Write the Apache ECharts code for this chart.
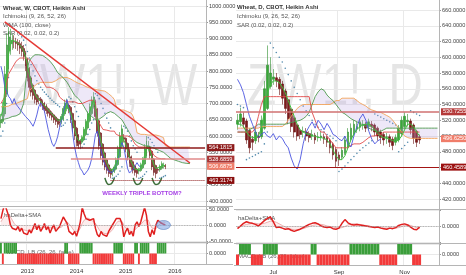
<!DOCTYPE html>
<html><head><meta charset="utf-8">
<script src="https://cdn.jsdelivr.net/npm/echarts@6/dist/echarts.min.js"></script>
<style>html,body{margin:0;padding:0;background:#fff}#c{width:466px;height:275px}</style>
</head><body><div id="c"></div>
<script>
// ---------- LEFT (weekly) data, one entry per 2 weeks from 2012-07-02 ----------
const weeklyCandles = [ // [open, close, low, high]
[640,650,625,668],[645,690,638,705],[668,790,660,815],[729,880,720,915],[805,920,795,935],
[862,905,850,930],[884,895,865,915],[890,890,870,910],[890,885,868,902],[888,880,862,898],
[884,870,852,895],[877,860,845,890],[869,845,832,880],[857,815,800,862],[836,780,768,840],
[808,750,738,812],[779,735,722,785],[757,725,712,762],[741,712,700,745],[727,705,695,730],
[716,712,698,725],[714,700,690,720],[707,692,680,712],[700,683,672,705],[692,678,668,698],
[685,670,660,690],[678,664,655,684],[671,658,648,676],[665,650,640,668],[658,645,634,662],
[652,636,625,655],[644,640,628,652],[642,660,636,668],[651,685,646,692],[668,700,662,712],
[684,705,676,715],[695,680,670,700],[688,650,640,692],[669,625,612,672],[647,600,588,650],
[624,580,568,628],[602,570,560,606],[586,575,562,590],[581,595,575,602],[588,620,584,628],
[604,645,600,652],[625,668,620,676],[647,690,642,700],[669,710,664,722],[690,720,684,735],
[705,660,650,712],[683,610,598,686],[647,570,558,650],[609,540,528,612],[575,520,510,578],
[548,505,495,552],[527,495,484,530],[511,485,474,515],[498,482,470,502],[490,492,476,500],
[491,505,486,512],[498,525,494,534],[512,560,508,570],[536,600,532,612],[568,622,562,635],
[595,590,580,606],[593,560,550,596],[577,535,525,580],[556,515,505,560],[536,505,495,540],
[521,495,485,525],[508,488,478,512],[498,485,472,502],[492,495,482,502],[494,510,490,518],
[502,525,498,535],[514,560,510,575],[537,585,532,600],[561,570,552,585],[566,540,530,570],
[553,505,495,556],[529,488,478,532],[509,484,470,512],[497,495,485,502],[496,505,490,512],
[501,515,496,522],[508,510,500,518],[509,506,498,514]];
const weeklyTenkan = [660,680,740,800,850,880,895,895,890,888,880,872,862,845,820,790,765,745,730,720,
712,708,700,695,688,680,674,668,662,655,648,645,652,668,682,695,690,668,645,620,
600,585,580,590,610,630,655,675,695,710,690,650,610,580,555,535,518,505,495,492,
500,515,540,570,600,595,575,555,535,520,508,498,492,495,505,518,540,565,570,555,
530,510,500,500,505,510,510,508];
const weeklyKijun = [700,700,720,760,790,800,810,820,830,835,840,840,840,
840,840,840,830,820,810,800,800,
780,770,760,750,750,750,750,745,740,735,
720,715,710,705,705,705,705,705,705,705,
700,700,700,700,705,705,710,710,710,700,
650,640,630,620,620,618,618,615,615,615,
605,600,600,600,600,600,600,598,595,590,
575,570,566,566,566,566,566,566,560,555,
540,535,532,532,530,530,530];
const weeklySpanA = [650,650,652,655,655,658,660,660,662,665,668,670,700,760,810,
830,840,845,850,850,850,850,848,845,840,835,830,825,815,805,
795,790,785,780,772,765,755,745,735,725,720,715,710,
700,690,680,670,665,660,655,650,650,652,
655,660,665,670,675,675,672,670,
665,660,655,650,640,630,620,610,600,590,585,
580,575,575,572,570,570,568,566,565,562,560,558,555,553,550,
545,540,535,530,528,526,524,522,520,518,517,516,515,515];
const weeklySpanB = [690,690,690,690,692,695,698,700,700,705,705,708,710,712,715,
740,745,750,755,760,762,765,765,765,765,765,765,765,768,770,
775,778,780,780,780,780,778,775,770,768,765,762,760,
758,755,752,750,748,746,745,744,742,741,
740,740,738,735,730,725,720,712,
690,685,680,680,680,678,675,672,670,660,640,
610,605,605,605,605,605,603,603,603,603,603,600,600,600,595,
570,566,566,566,566,566,566,566,566,566,566,566,566,566];
const weeklyLagging = [815,790,752,738,722,715,700,715,698,690,685,675,672,660,662,648,650,630,645,665,
690,702,700,676,648,620,598,578,568,580,598,625,648,670,695,712,718,655,605,565,
538,518,500,492,480,486,495,508,530,565,605,615,588,555,530,512,500,490,485,488,
498,512,530,565,580,565,535,500,486,482,498,508,518,508,505];
const weeklySAR = [600,615,640,700,780,
940,935,930,925,920,915,905,895,880,860,840,820,800,785,770,760,750,742,735,728,722,716,710,705,700,695,690,
630,633,640,650,720,715,705,690,675,660,562,565,575,590,605,620,640,650,
730,725,715,700,685,670,655,640,625,470,472,476,482,492,505,
630,625,615,600,585,570,560,550,470,472,476,482,490,595,590,580,570,560,550,470,472,475,478];
const weeklyHaDelta = [20,45,65,60,30,0,-10,-5,-15,-5,-20,-10,-25,-20,-30,-15,-25,-10,5,-15,0,-20,-10,
5,-15,-5,-25,-10,0,-20,-25,-5,10,25,20,5,-20,-25,-30,-20,-35,-15,10,55,35,20,25,15,10,
20,-10,-30,-37,-20,-30,-25,-35,-20,-25,0,10,20,25,20,5,-37,-20,-10,-30,-20,
-35,0,10,-5,10,15,55,30,-20,-37,-15,-30,0,15,20,5,10,0];
const weeklySMA = [10,20,30,35,32,25,15,5,-2,-8,-10,-12,-15,-18,-18,-18,-16,-14,-10,-8,
-8,-9,-9,-8,-7,-8,-9,-10,-10,-8,-10,-10,-7,0,6,10,6,-3,-12,-20,
-22,-20,-10,5,15,20,22,20,15,12,5,-5,-15,-22,-25,-27,-28,-27,-22,-15,
-5,5,12,15,12,0,-10,-15,-18,-20,-22,-15,-8,-3,2,6,15,20,15,0,
-10,-15,-12,-5,3,8,10,8];
const weeklyMACD = [1,-1,1,1,1,1,1,1,1,
-1,-1,-1,-1,-1,-1,-1,-1,-1,-1,-1,-1,-1,-1,-1,-1,-1,-1,-1,-1,-1,-1,-1,-1,-1,
1,1,-1,-1,-1,-1,-1,-1,1,1,1,1,1,1,1,
-1,-1,-1,-1,-1,-1,-1,-1,-1,-1,-1,1,1,1,1,1,-1,-1,-1,-1,-1,-1,
1,1,-1,1,1,1,1,1,-1,-1,-1,-1,1,1,1,1,1];
const weeklyLevels = [564.1815, 528.6859, 506.6875, 463.3174];

// ---------- RIGHT (daily) data, one entry per 2 trading days from 2015-05-28 ----------
const dailyCandles = [
[515,520,508,528],[518,528,512,536],[523,515,510,530],[519,495,490,522],[507,485,478,510],
[496,492,482,500],[494,505,490,510],[500,498,492,505],[499,520,496,526],[510,560,508,570],
[535,590,533,615],[563,580,560,600],[572,575,565,585],[574,570,562,580],[572,560,552,575],
[566,548,540,570],[557,535,528,560],[546,522,515,548],[534,512,505,536],[523,505,498,526],
[514,500,494,516],[507,502,496,510],[505,506,498,512],[505,500,494,510],[503,498,492,506],
[500,502,495,508],[501,495,490,504],[498,499,493,505],[498,500,494,506],[499,496,490,503],
[498,492,486,500],[495,485,478,497],[490,476,470,492],[483,468,460,486],[476,470,462,480],
[473,482,470,486],[478,495,476,500],[486,505,484,510],[496,510,494,516],[503,515,500,520],
[509,512,504,518],[511,518,506,522],[514,515,508,520],[515,510,505,518],[512,518,508,522],
[515,512,506,519],[514,505,500,516],[510,500,494,512],[505,498,490,508],[502,495,488,505],
[498,499,490,504],[499,492,486,502],[496,488,482,499],[492,498,488,502],[495,510,492,514],
[503,520,500,525],[512,525,508,530],[518,520,512,528],[519,508,502,522],[514,497,490,516],
[506,492,486,508],[499,495,490,502]];
const dailyTenkan = [515,515,512,505,500,498,498,500,510,530,555,565,570,570,568,562,555,545,535,525,515,
508,505,503,502,500,500,498,498,497,495,490,482,475,470,470,475,485,495,503,508,512,514,515,515,512,
508,503,500,498,497,496,494,493,495,500,508,515,515,512,505,500];
const dailyKijun = [505,505,505,505,505,505,510,525,540,550,
550,550,550,550,550,550,550,550,550,550,550,550,550,550,550,
530,520,510,505,505,500,495,490,485,485,485,485,
485,488,490,490,490,492,495,498,
500,500,502,502,505,505,505,505,505,505,505,505,505,505,505,505,505];
const dailySpanA = [505,505,505,505,508,510,512,515,515,515,515,515,515,515,515,515,
515,516,517,518,519,
520,522,525,530,540,550,556,560,558,552,548,545,540,535,530,528,525,522,520,518,
516,514,512,510,508,507,506,506,508,510,
510,510,510,510,510,510,510,510,510,510,510,510,510,510,510,510,510];
const dailySpanB = [510,510,510,510,510,510,510,510,512,512,512,512,512,512,512,512,
515,520,525,530,535,538,540,540,540,540,540,540,
540,540,540,540,542,545,545,548,548,548,548,548,545,542,540,538,535,533,532,530,
530,528,526,524,520,515,510,505,500,498,497,
497,497,497,497,497,497,497,497,497];
const dailyLagging = [572,565,555,540,525,515,505,498,502,505,500,498,503,495,500,497,490,485,472,462,
458,470,490,505,512,518,510,520,515,508,516,510,502,500,496,494,500,490,486,500,
512,522,528,520,506,496,490,494,496];
const dailySAR = [540,538,536,470,472,474,476,478,480,490,505,618,612,606,600,
594,586,578,570,562,554,546,538,532,526,520,515,511,508,505,502,500,497,494,
455,458,462,466,470,474,478,482,485,488,491,494,528,526,524,522,520,518,516,514,
480,484,488,492,532,530,528,526];
const dailyHaDelta = [-5,0,5,8,6,5,3,0,5,10,14,17,8,-3,-2,-4,-6,-5,-8,-10,-8,-6,-3,0,3,5,6,4,
0,-2,-3,-2,-5,-6,-4,5,12,6,3,2,3,2,1,0,-1,-2,-3,-2,-4,-5,-6,-4,-5,-3,1,3,4,2,-2,-6,-7,-2];
const dailySMA = [-2,-1,1,3,4,5,5,4,4,5,7,9,9,7,4,1,-2,-4,-6,-7,-7,-6,-5,-3,-1,1,2,3,3,2,
0,-1,-2,-3,-4,-3,-1,2,4,4,4,3,2,1,0,-1,-2,-2,-3,-4,-4,-4,-4,-4,-3,-1,1,2,1,-1,-3,-4];
const dailyMACD = [-1,1,1,1,1,-1,-1,-1,-1,1,1,1,1,1,
-1,-1,-1,-1,-1,-1,-1,-1,-1,-1,-1,1,1,
-1,-1,-1,-1,-1,-1,-1,-1,-1,-1,-1,1,1,1,1,1,1,1,1,1,1,
-1,-1,-1,-1,-1,-1,1,1,1,1,1,-1,-1,-1];
const dailyLevels = [530.7255, 496.6250, 460.4589];

// ---------- categories ----------
const catsL = (() => { const o = []; let t = Date.UTC(2012, 6, 2); for (let i = 0; i < 109; i++) { o.push(new Date(t).toISOString().slice(0, 10)); t += 14 * 864e5; } return o; })();
const catsR = (() => { const o = []; let t = Date.UTC(2015, 4, 28), k = 0; while (o.length < 68) { const d = new Date(t), wd = d.getUTCDay(); if (wd !== 0 && wd !== 6) { if (k % 2 === 0) o.push(d.toISOString().slice(0, 10)); k++; } t += 864e5; } return o; })();
const MONTHS = ['Jan','Feb','Mar','Apr','May','Jun','Jul','Aug','Sep','Oct','Nov','Dec'];
const showL = i => i > 0 && catsL[i].slice(0, 4) !== catsL[i - 1].slice(0, 4);
const showR = i => i > 0 && catsR[i].slice(5, 7) !== catsR[i - 1].slice(5, 7) && ['07', '09', '11'].includes(catsR[i].slice(5, 7));

const FONT = '"Liberation Sans", Arial, sans-serif';
const FS = 5.6;
const GRID = '#e9e9e9';

function xAx(gi, cats, showFn, fmt, bottom) {
  return { type: 'category', gridIndex: gi, data: cats, boundaryGap: true,
    axisLine: { show: false }, axisTick: { show: false },
    axisLabel: { show: bottom, interval: (i) => showFn(i), formatter: fmt, fontSize: 6, color: '#333', fontFamily: FONT, margin: 4 },
    splitLine: { show: true, interval: (i) => showFn(i), lineStyle: { color: GRID, width: 1 } } };
}
function yAx(gi, min, max, interval, fmt) {
  return { type: 'value', gridIndex: gi, position: 'right', min, max, interval,
    axisLine: { show: false }, axisTick: { show: true, length: 2, lineStyle: { color: '#999' } },
    axisLabel: { fontSize: FS, color: '#444', fontFamily: FONT, margin: 3, formatter: fmt },
    splitLine: { show: true, lineStyle: { color: GRID } } };
}
const f4 = v => v.toFixed(4);
const only0 = v => (v === 0 ? '0.0000' : '');

function line(xi, data, color, width, extra) {
  return Object.assign({ type: 'line', xAxisIndex: xi, yAxisIndex: xi, data, symbol: 'none', showSymbol: false,
    silent: true, lineStyle: { color, width }, itemStyle: { color } }, extra || {});
}
function lvl(label, bg) {
  return { show: true, position: 'end', formatter: label, color: '#fff', backgroundColor: bg,
    padding: [1, 2, 0, 2], fontSize: FS, fontFamily: FONT, distance: 2 };
}
function segPieces(v, up, down) {
  const p = [];
  for (let i = 0; i < v.length - 1; i++) p.push({ gte: i, lt: i + 1, color: v[i + 1] >= v[i] ? up : down });
  p.push({ gte: v.length - 1, color: v[v.length - 1] >= v[v.length - 2] ? up : down });
  return p;
}

const series = [];
const visualMaps = [];

function buildPanel(o) {
  const g = o.g;
  const base = o.spanA.map((a, i) => Math.min(a, o.spanB[i]));
  const band = o.spanA.map((a, i) => Math.abs(a - o.spanB[i]));
  series.push(line(g, base, 'transparent', 0, { stack: 'cloud' + g, lineStyle: { width: 0, opacity: 0 } }));
  series.push(line(g, band, 'transparent', 0, { stack: 'cloud' + g, lineStyle: { width: 0, opacity: 0 }, areaStyle: { color: 'rgba(185,160,225,0.35)' } }));
  series.push(line(g, o.spanB, '#f3a45a', 0.9));
  series.push(line(g, o.spanA, '#4f9a4f', 0.9));
  series.push(line(g, o.kijun, '#e24b4b', 0.9));
  series.push(line(g, o.lag, '#4b55e0', 0.9));
  series.push(line(g, o.tenkan, '#3fbf3f', 1));
  series.push({ type: 'scatter', xAxisIndex: g, yAxisIndex: g, data: o.sar, symbolSize: 1.6, silent: true, itemStyle: { color: '#2a6f9a' } });
  series.push({ type: 'candlestick', xAxisIndex: g, yAxisIndex: g, data: o.candles, barWidth: '75%', silent: true,
    itemStyle: { color: '#39a839', color0: '#7d1a1a', borderColor: '#2e8e2e', borderColor0: '#6a1212', borderWidth: 0.6 },
    markLine: { silent: true, symbol: ['none', 'none'], animation: false, data: o.marks } });
  (o.extra || []).forEach(s => series.push(s));
  // oscillator
  series.push(line(g + 1, o.sma, '#e8a0a0', 0.8, { areaStyle: { color: 'rgba(235,140,140,0.22)' },
    markLine: { silent: true, symbol: ['none', 'none'], label: { show: false }, data: [{ yAxis: 0 }], lineStyle: { color: '#9a9a9a', type: 'dotted', width: 0.8 } } }));
  const oscIdx = series.length;
  series.push(line(g + 1, o.osc, '#e02020', 1.5, o.oscExtra || {}));
  visualMaps.push({ type: 'piecewise', show: false, seriesIndex: oscIdx, dimension: 0, pieces: segPieces(o.osc, '#33cc33', '#e02020') });
  // MACD-like histogram
  series.push({ type: 'bar', xAxisIndex: g + 2, yAxisIndex: g + 2, data: o.macd, barWidth: '100%', silent: true,
    itemStyle: { color: p => (p.value > 0 ? '#3a9e3a' : '#f23a3a') } });
}

const uShape = (a) => [[catsL[a], 471], [catsL[a + 1], 456], [catsL[a + 2], 451], [catsL[a + 3], 452], [catsL[a + 4], 458], [catsL[a + 5], 471]];
const uStyle = data => ({ type: 'line', xAxisIndex: 0, yAxisIndex: 0, data, smooth: true, symbol: 'none', silent: true, lineStyle: { color: '#3d6e3a', width: 1.5 } });

buildPanel({ g: 0, candles: weeklyCandles, tenkan: weeklyTenkan, kijun: weeklyKijun, spanA: weeklySpanA, spanB: weeklySpanB,
  lag: weeklyLagging, sar: weeklySAR, osc: weeklyHaDelta, sma: weeklySMA, macd: weeklyMACD,
  marks: [
    [{ coord: [catsL[2], 951], lineStyle: { color: '#e53935', width: 1.5, type: 'solid' }, label: { show: false } }, { coord: [catsL[100], 517] }],
    [{ coord: [catsL[29], weeklyLevels[0]], lineStyle: { color: '#8e1b1b', width: 1.5, type: 'solid' }, label: lvl('564.1815', '#8e1b1b') }, { coord: [catsL[108], weeklyLevels[0]] }],
    [{ coord: [catsL[37], weeklyLevels[1]], lineStyle: { color: '#e08a8a', width: 1.5, type: 'solid' }, label: lvl('528.6859', '#a83535') }, { coord: [catsL[108], weeklyLevels[1]] }],
    [{ coord: [catsL[87], weeklyLevels[2]], lineStyle: { color: 'transparent', width: 1 }, label: lvl('506.6875', '#f07d6a') }, { coord: [catsL[108], weeklyLevels[2]] }],
    [{ coord: [catsL[58], weeklyLevels[3]], lineStyle: { color: '#8e1b1b', width: 1, type: 'dotted' }, label: lvl('463.3174', '#8a0f0f') }, { coord: [catsL[108], weeklyLevels[3]] }]
  ],
  extra: [uStyle(uShape(55)), uStyle(uShape(70)), uStyle(uShape(80))],
  oscExtra: { markPoint: { silent: true, animation: false, data: [{ coord: [catsL[86], 0], symbol: 'circle', symbolSize: [14, 9],
    itemStyle: { color: 'rgba(120,160,225,0.55)', borderColor: '#5a7fc0', borderWidth: 0.6 }, label: { show: false } }] } }
});
buildPanel({ g: 3, candles: dailyCandles, tenkan: dailyTenkan, kijun: dailyKijun, spanA: dailySpanA, spanB: dailySpanB,
  lag: dailyLagging, sar: dailySAR, osc: dailyHaDelta, sma: dailySMA, macd: dailyMACD,
  marks: [
    { yAxis: dailyLevels[0], lineStyle: { color: '#d07070', width: 1.5, type: 'solid' }, label: lvl('530.7255', '#b53a3a') },
    { yAxis: dailyLevels[1], lineStyle: { color: 'transparent', width: 1 }, label: lvl('496.6250', '#f07d6a') },
    { yAxis: dailyLevels[2], lineStyle: { color: '#a31515', width: 1.2, type: 'solid' }, label: lvl('460.4589', '#9c1010') }
  ]
});

const grids = [
  { left: 0, width: 206, top: 6, height: 195 },
  { left: 0, width: 206, top: 209, height: 32 },
  { left: 0, width: 206, top: 243, height: 21 },
  { left: 236, width: 203, top: 10, height: 189 },
  { left: 236, width: 203, top: 210, height: 32 },
  { left: 236, width: 203, top: 244, height: 21 }
].map(g => Object.assign({ containLabel: false, outerBoundsMode: 'none' }, g));

const fmtL = v => v.slice(0, 4);
const fmtR = v => MONTHS[parseInt(v.slice(5, 7), 10) - 1];

const txt = (x, y, text, fill, size, weight, align) => ({ type: 'text', x, y, silent: true, z: 1,
  style: { text, fill, fontSize: size, fontFamily: FONT, fontWeight: weight || 'normal', textAlign: align || 'left', align: align || 'left', textVerticalAlign: 'middle', verticalAlign: 'middle' } });
const hl = (x1, x2, y) => ({ type: 'line', silent: true, z: 1, shape: { x1, y1: y, x2, y2: y }, style: { stroke: '#b5b5b5', lineWidth: 1 } });
const vl = (x, y1, y2) => ({ type: 'line', silent: true, z: 1, shape: { x1: x, y1, x2: x, y2 }, style: { stroke: '#b5b5b5', lineWidth: 1 } });
const wm = (x, y, text) => ({ type: 'text', x, y, scaleX: 0.8, silent: true, z: 0,
  style: { text, fill: 'rgba(0,0,0,0.10)', fontSize: 60, fontFamily: FONT, textAlign: 'center', align: 'center', textVerticalAlign: 'middle', verticalAlign: 'middle' } });

const option = {
  animation: false,
  backgroundColor: '#ffffff',
  textStyle: { fontFamily: FONT },
  grid: grids,
  xAxis: [
    xAx(0, catsL, showL, fmtL, false), xAx(1, catsL, showL, fmtL, false), xAx(2, catsL, showL, fmtL, true),
    xAx(3, catsR, showR, fmtR, false), xAx(4, catsR, showR, fmtR, false), xAx(5, catsR, showR, fmtR, true)
  ],
  yAxis: [
    yAx(0, 400, 1000, 50, f4), yAx(1, -50, 50, 50, f4), yAx(2, -1, 1, 1, only0),
    yAx(3, 420, 660, 20, f4), yAx(4, -30, 30, 30, only0), yAx(5, -1, 1, 1, only0)
  ],
  visualMap: visualMaps,
  series,
  graphic: [
    wm(104, 88, 'ZW1!, W'), wm(335, 88, 'ZW1!, D'),
    hl(0, 233, 206.5), hl(0, 233, 242.5), hl(0, 233, 264.5),
    hl(234, 466, 209.5), hl(234, 466, 243.5), hl(234, 466, 265.5),
    vl(206.5, 0, 265), vl(439.5, 0, 266),
    txt(3, 8, 'Wheat, W, CBOT, Heikin Ashi', '#333', 6, 'bold'),
    txt(3, 16.5, 'Ichimoku (9, 26, 52, 26)', '#555', 6),
    txt(3, 25, 'WMA (100, close)', '#555', 6),
    txt(3, 33, 'SAR (0.02, 0.02, 0.2)', '#555', 6),
    txt(237, 7.5, 'Wheat, D, CBOT, Heikin Ashi', '#333', 6, 'bold'),
    txt(237, 16, 'Ichimoku (9, 26, 52, 26)', '#555', 6),
    txt(237, 25, 'SAR (0.02, 0.02, 0.2)', '#555', 6),
    txt(4, 215, 'haDelta+SMA', '#555', 6),
    txt(238, 218, 'haDelta+SMA', '#555', 6),
    txt(7, 252.5, 'MACD_LB (26, 26, false)', 'rgba(40,40,40,0.75)', 6),
    txt(238, 256, 'MACD_LB (26, 26, false)', 'rgba(40,40,40,0.75)', 6),
    txt(142, 193, 'WEEKLY TRIPLE BOTTOM?', '#a640e6', 6, 'bold', 'center')
  ]
};

const chart = echarts.init(document.getElementById('c'), null, { renderer: 'canvas' });
chart.setOption(option);
</script>
</body></html>
